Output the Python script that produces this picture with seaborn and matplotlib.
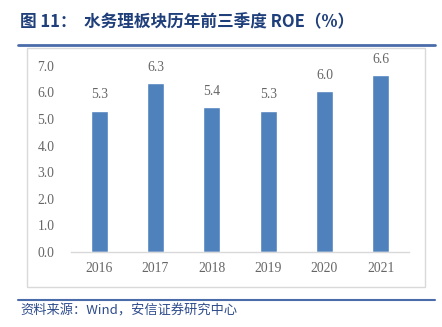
import matplotlib
matplotlib.use("Agg")
import matplotlib.pyplot as plt
import seaborn as sns
import pandas as pd
from matplotlib.patches import Rectangle
from matplotlib.lines import Line2D

years = ["2016", "2017", "2018", "2019", "2020", "2021"]
roe = [5.30, 6.34, 5.44, 5.30, 6.04, 6.64]
yticks = [0.0, 1.0, 2.0, 3.0, 4.0, 5.0, 6.0, 7.0]

title_text = "图 11：  水务理板块历年前三季度 ROE（%）"
source_text = "资料来源：Wind，安信证券研究中心"

sns.set_theme(style="white")
plt.rcParams['font.family'] = ['Noto Sans CJK SC', 'DejaVu Sans']

W, H = 442, 327
fig = plt.figure(figsize=(W / 100, H / 100), dpi=100)
fig.patch.set_facecolor("white")

# chart box
fig.patches.append(Rectangle((27 / W, 1 - 287 / H), (425 - 27) / W, (287 - 48) / H,
                             transform=fig.transFigure, fill=False,
                             edgecolor="#D9D9D9", linewidth=1.0))
# header / footer rules
fig.add_artist(Line2D([18 / W, 435 / W], [1 - 45 / H, 1 - 45 / H], transform=fig.transFigure,
                      color="#4A6DAA", linewidth=2.0))
fig.add_artist(Line2D([18 / W, 435 / W], [1 - 300 / H, 1 - 300 / H], transform=fig.transFigure,
                      color="#4A6DAA", linewidth=1.5))

ax = fig.add_axes([71 / W, 1 - 252 / H, (409 - 71) / W, (252 - 65.7) / H])
df = pd.DataFrame({"year": years, "roe": roe})
sns.barplot(data=df, x="year", y="roe", color="#4F81BD", width=0.30, ax=ax, saturation=1)

ax.set_ylim(0, 7)
ax.set_xlim(-0.5, 5.5)
ax.set_yticks(yticks)
ax.set_yticklabels([f"{v:.1f}" for v in yticks])
ax.set_xlabel("")
ax.set_ylabel("")
for s in ["top", "right", "left"]:
    ax.spines[s].set_visible(False)
ax.spines["bottom"].set_color("#D9D9D9")
ax.spines["bottom"].set_linewidth(1.0)
ax.tick_params(axis="both", length=0, colors="#666666", labelsize=9.8)
ax.tick_params(axis="y", pad=12)
ax.tick_params(axis="x", pad=7)
for lab in ax.get_xticklabels() + ax.get_yticklabels():
    lab.set_family("Liberation Serif")

for i, v in enumerate(roe):
    ax.annotate(f"{v:.1f}", (i, v), xytext=(0, 9), textcoords="offset points",
                ha="center", va="baseline", fontsize=9.8, color="#666666",
                family="Liberation Serif", annotation_clip=False)

fig.text(20 / W, 1 - 22 / H, title_text, fontsize=12, fontweight="bold",
         color="#1F3F7A", va="center", ha="left",
         family=["Noto Sans CJK SC", "DejaVu Sans"])
fig.text(20 / W, 1 - 311 / H, source_text, fontsize=9.5,
         color="#2E4C8C", va="center", ha="left",
         family=["Noto Sans CJK SC", "DejaVu Sans"])

fig.savefig("out.png", dpi=100)
